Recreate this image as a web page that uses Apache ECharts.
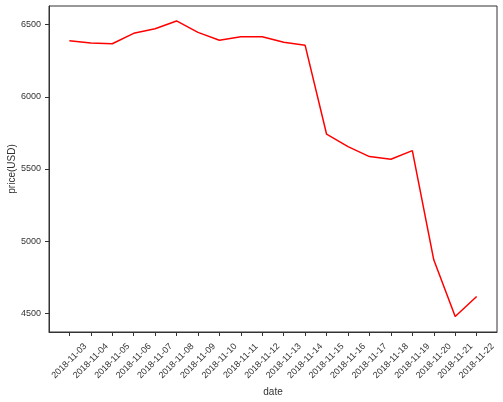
<!DOCTYPE html>
<html>
<head>
<meta charset="utf-8">
<script src="https://cdn.jsdelivr.net/npm/echarts@6/dist/echarts.min.js"></script>
<style>
  html, body { margin: 0; padding: 0; background: #fff; }
  #chart { width: 503px; height: 402px; }
</style>
</head>
<body>
<div id="chart"></div>
<script>
// dates on x axis
const dates = ['2018-11-03', '2018-11-04', '2018-11-05', '2018-11-06', '2018-11-07',
    '2018-11-08', '2018-11-09', '2018-11-10', '2018-11-11', '2018-11-12',
    '2018-11-13', '2018-11-14', '2018-11-15', '2018-11-16', '2018-11-17',
    '2018-11-18', '2018-11-19', '2018-11-20', '2018-11-21', '2018-11-22'];

// closing price per day
const prices = [6389, 6373, 6368, 6440, 6472, 6526, 6447, 6392, 6417, 6417,
    6378, 6357, 5741, 5655, 5586, 5568, 5627, 4871, 4478, 4616];

const yTicks = [4500, 5000, 5500, 6000, 6500];

const xIdx = dates.map((d, i) => i);
const seriesData = prices.map((p, i) => [i, p]);

// matplotlib style 5% margins
const yMin = 4370.5, yMax = 6629.5;
const xMin = -0.95, xMax = 19 + 0.95;

const font = 'Liberation Sans, Arial, sans-serif';

let myChart = echarts.init(document.getElementById('chart'), null, {renderer: 'canvas'});

let option = {
    animation: false,
    grid: {
        left: 49, right: 6, top: 6, bottom: 70,
        containLabel: false,
        outerBoundsMode: 'none',
        show: true,
        borderColor: '#333',
        borderWidth: 1
    },
    xAxis: {
        type: 'value',
        min: xMin,
        max: xMax,
        name: 'date',
        nameLocation: 'middle',
        nameGap: 55,
        nameMoveOverlap: false,
        nameTextStyle: {fontFamily: font, fontSize: 10, color: '#333'},
        splitLine: {show: false},
        axisLine: {show: true, onZero: false, lineStyle: {color: '#333', width: 1}},
        axisTick: {show: true, length: 4, lineStyle: {color: '#333'}, customValues: xIdx},
        axisLabel: {
            customValues: xIdx,
            rotate: 45,
            align: 'center',
            verticalAlign: 'middle',
            margin: 29,
            fontFamily: font,
            fontSize: 9,
            color: '#333',
            formatter: v => dates[Math.round(v)] || ''
        }
    },
    yAxis: {
        type: 'value',
        min: yMin,
        max: yMax,
        name: 'price(USD)',
        nameLocation: 'middle',
        nameGap: 32,
        nameMoveOverlap: false,
        nameTextStyle: {fontFamily: font, fontSize: 10, color: '#333'},
        splitLine: {show: false},
        axisLine: {show: true, onZero: false, lineStyle: {color: '#333', width: 1}},
        axisTick: {show: true, length: 4, lineStyle: {color: '#333'}, customValues: yTicks},
        axisLabel: {
            customValues: yTicks,
            margin: 8,
            fontFamily: font,
            fontSize: 9,
            color: '#333',
            formatter: v => String(v)
        }
    },
    series: [
        {
            type: 'line',
            data: seriesData,
            symbol: 'none',
            lineStyle: {color: '#ff0000', width: 1.5}
        }
    ]
};

myChart.setOption(option);
</script>
</body>
</html>
